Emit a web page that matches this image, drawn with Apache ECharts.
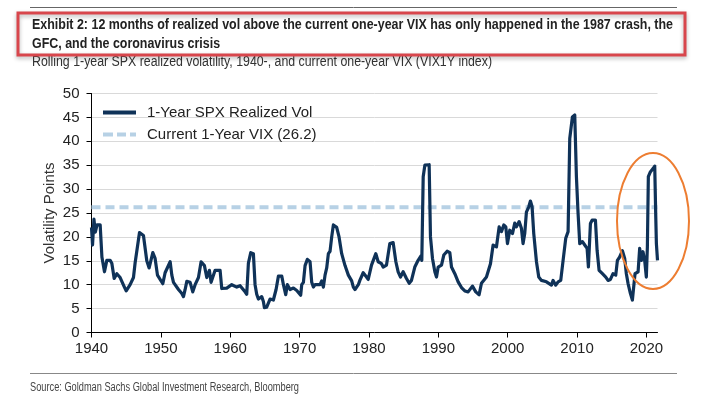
<!DOCTYPE html>
<html>
<head>
<meta charset="utf-8">
<script src="https://cdn.jsdelivr.net/npm/echarts@6/dist/echarts.min.js"></script>
<style>
  html, body { margin: 0; padding: 0; background: #fff; }
  #chart { width: 725px; height: 398px; }
</style>
</head>
<body>
<div id="chart"></div>
<script>
// rolling 1-year SPX realized vol (year, vol points)
var years = [
  1940.0, 1940.15, 1940.35, 1940.55, 1940.8, 1941.25, 1941.5, 1941.87, 1942.21, 1942.69,
  1942.93, 1943.27, 1943.65, 1944.13, 1944.71, 1945.0, 1945.57, 1946.05, 1946.29, 1946.53,
  1946.92, 1947.49, 1947.73, 1947.97, 1948.31, 1948.84, 1949.17, 1949.51, 1950.28, 1950.61,
  1951.34, 1951.58, 1951.82, 1952.54, 1953.0, 1953.26, 1953.5, 1953.74, 1954.22, 1954.6,
  1954.94, 1955.42, 1955.8, 1956.28, 1956.62, 1957.0, 1957.24, 1957.82, 1958.54, 1958.78,
  1959.5, 1960.22, 1960.94, 1961.42, 1962.14, 1962.38, 1962.62, 1962.96, 1963.34, 1963.58,
  1963.82, 1964.06, 1964.54, 1964.78, 1964.93, 1965.26, 1965.74, 1966.22, 1966.61, 1966.95,
  1967.43, 1967.67, 1968.0, 1968.24, 1968.63, 1969.11, 1969.59, 1969.83, 1970.16, 1970.31,
  1970.55, 1970.79, 1971.12, 1971.51, 1971.75, 1971.99, 1972.23, 1972.95, 1973.19, 1973.43,
  1973.67, 1973.91, 1974.15, 1974.39, 1974.63, 1974.87, 1975.35, 1975.69, 1976.07, 1976.55,
  1977.03, 1977.51, 1977.75, 1977.99, 1978.47, 1978.69, 1979.17, 1979.65, 1979.89, 1980.37,
  1980.99, 1981.33, 1981.81, 1982.05, 1982.53, 1983.01, 1983.49, 1983.88, 1984.21, 1984.55,
  1984.93, 1985.41, 1985.8, 1986.13, 1986.61, 1987.09, 1987.48, 1987.62, 1987.82, 1988.06,
  1988.68, 1988.87, 1989.16, 1989.5, 1989.74, 1989.98, 1990.46, 1990.79, 1991.27, 1991.66,
  1991.9, 1992.38, 1992.86, 1993.34, 1993.82, 1994.3, 1994.92, 1995.4, 1995.88, 1996.22,
  1996.94, 1997.52, 1997.9, 1998.38, 1998.77, 1999.1, 1999.44, 1999.73, 1999.97, 2000.3,
  2000.69, 2001.02, 2001.26, 2001.65, 2001.98, 2002.22, 2002.46, 2002.7, 2003.04, 2003.28,
  2003.52, 2003.76, 2004.15, 2004.48, 2004.87, 2005.59, 2006.31, 2006.55, 2006.93, 2007.27,
  2007.65, 2007.99, 2008.37, 2008.71, 2008.95, 2009.33, 2009.67, 2009.91, 2010.15, 2010.39,
  2010.78, 2011.11, 2011.45, 2011.64, 2011.93, 2012.17, 2012.65, 2012.89, 2013.18, 2013.66,
  2014.14, 2014.47, 2014.81, 2015.19, 2015.58, 2015.82, 2016.15, 2016.54, 2016.87, 2017.11,
  2017.35, 2017.69, 2017.98, 2018.17, 2018.36, 2018.8, 2019.03, 2019.27, 2019.51, 2019.75,
  2019.99, 2020.14, 2020.28, 2020.57, 2020.96, 2021.2, 2021.34, 2021.44, 2021.6
];
var vol = [
  22, 18.3, 23.7, 21, 22.5, 22.5, 15.8, 12.7, 15.1, 15.1,
  14.5, 11.3, 12.3, 11.5, 9.6, 8.7, 10, 11.5, 14.6, 15,
  20.9, 20.3, 20.5, 15, 13.5, 16.7, 15.5, 12, 10.2, 12.5,
  14.8, 12, 10.5, 9, 8.2, 7.5, 9, 10.7, 10.5, 8.5,
  10, 11.5, 14.8, 14, 11.5, 13, 10.5, 13, 13, 9.2,
  9.3, 10, 9.5, 9.8, 8.5, 8, 14.5, 16.7, 16.5, 10,
  8, 7, 7.5, 6.5, 5.2, 5.3, 7, 6.8, 9, 11.8,
  11.8, 10, 7.9, 10, 9, 9.3, 8.8, 9, 7.8, 10,
  10.5, 14, 15.3, 14.8, 10.5, 9.5, 10, 10, 10.8, 9.5,
  12, 13.5, 16.5, 17, 20, 22.5, 22, 20, 16.5, 14,
  12, 10.8, 9.5, 9, 10, 10.9, 12.5, 11.6, 11.1, 14.1,
  16.5, 14.8, 14.4, 13.7, 14.1, 18.6, 18.8, 14.8, 12.7, 11.6,
  12.7, 11.3, 10.3, 10.9, 13.7, 15.1, 16, 15.1, 32.6, 35,
  35.1, 20, 15.5, 12.7, 11.6, 13.7, 14.1, 16.2, 17, 16.7,
  13.7, 12.3, 10.6, 9.4, 8.7, 8.5, 9.7, 8.5, 7.9, 10.3,
  11.6, 14.4, 18.3, 17.9, 22.1, 21.1, 22.5, 22.1, 18.6, 21.4,
  20.7, 22.9, 22.1, 23.2, 21.8, 18.6, 20.7, 25.2, 26.3, 27.5,
  26.3, 20.7, 14.8, 11.6, 10.9, 10.6, 9.9, 10.9, 9.9, 10.6,
  10.9, 15.1, 19.7, 21.1, 40.6, 45.1, 45.5, 32.6, 24.9, 18.6,
  19, 18.3, 17.6, 13.7, 22.8, 23.5, 23.5, 17.2, 13, 12.3,
  11.6, 10.9, 11.1, 12.3, 12, 15.1, 15.8, 17.1, 15.5, 12.3,
  10.3, 8.2, 6.8, 7.1, 12.3, 12.7, 17.6, 15.1, 16.9, 15.1,
  11.6, 17.9, 32.6, 33.6, 34.3, 34.8, 24.9, 18.6, 15.1
];
var vixLevel = 26.2;
var xStart = 1940, xEnd = 2021.6;
var seriesNames = ['1-Year SPX Realized Vol', 'Current 1-Year VIX (26.2)'];

var titleLines = [
  'Exhibit 2: 12 months of realized vol above the current one-year VIX has only happened in the 1987 crash, the',
  'GFC, and the coronavirus crisis'
];
var subtitle = 'Rolling 1-year SPX realized volatility, 1940-, and current one-year VIX (VIX1Y index)';
var source = 'Source: Goldman Sachs Global Investment Research, Bloomberg';

var volData = years.map(function (y, i) { return [y, vol[i]]; });
var vixData = [[xStart, vixLevel], [xEnd, vixLevel]];

var axisFont = '"Liberation Sans", Arial, sans-serif';
var titleFont = 'bold 15px ' + axisFont;
var subFont = '14px ' + axisFont;
var srcFont = '12px ' + axisFont;

// the original uses a condensed face; squeeze regular text to the same width
var ctx = document.createElement('canvas').getContext('2d');
function squeeze(text, font, width) {
  ctx.font = font;
  return width / ctx.measureText(text).width;
}
var titleScale = squeeze(titleLines[0], titleFont, 641);
var subScale = squeeze(subtitle, subFont, 460);
var srcScale = squeeze(source, srcFont, 269);

function label(text, font, x, y, sx, color) {
  return {
    type: 'text', x: x, y: y, scaleX: sx, z: 20,
    style: { text: text, font: font, fill: color, verticalAlign: 'middle', align: 'left' }
  };
}

var chart = echarts.init(document.getElementById('chart'));
chart.setOption({
  backgroundColor: '#fff',
  animation: false,
  grid: { left: 91.5, right: 67.5, top: 93.5, bottom: 65.5 },
  legend: {
    orient: 'vertical',
    left: 98,
    top: 99,
    itemWidth: 33,
    itemHeight: 4,
    itemGap: 5,
    textStyle: { fontFamily: axisFont, fontSize: 15, color: '#222', lineHeight: 17, padding: [0, 0, 0, 6] },
    data: [
      { name: seriesNames[0], icon: 'path://M0,0H33V4H0Z' },
      { name: seriesNames[1], icon: 'path://M0,0H10V4H0Z M14,0H23V4H14Z M27,0H33V4H27Z' }
    ]
  },
  xAxis: {
    type: 'value',
    min: xStart,
    max: xEnd,
    interval: 10,
    axisLine: { lineStyle: { color: '#000', width: 1 } },
    axisTick: { show: true, length: 5, lineStyle: { color: '#000' } },
    splitLine: { show: false },
    axisLabel: {
      fontFamily: axisFont, fontSize: 15, color: '#222', margin: 9,
      showMaxLabel: false,
      formatter: function (v) { return v % 10 === 0 ? String(v) : ''; }
    }
  },
  yAxis: {
    type: 'value',
    min: 0,
    max: 50,
    interval: 5,
    name: 'Volatility Points',
    nameLocation: 'middle',
    nameGap: 34,
    nameMoveOverlap: false,
    nameTextStyle: { fontFamily: axisFont, fontSize: 15, color: '#333' },
    axisLine: { show: true, lineStyle: { color: '#000', width: 1 } },
    axisTick: { show: true, length: 5, lineStyle: { color: '#000' } },
    splitLine: { show: true, lineStyle: { color: '#d9d9d9', width: 1 } },
    axisLabel: { fontFamily: axisFont, fontSize: 15, color: '#222', margin: 12 }
  },
  series: [
    {
      name: seriesNames[0],
      type: 'line',
      data: volData,
      showSymbol: false,
      symbol: 'none',
      z: 3,
      lineStyle: { color: '#0f3258', width: 3.2, join: 'round' },
      itemStyle: { color: '#0f3258' }
    },
    {
      name: seriesNames[1],
      type: 'line',
      data: vixData,
      showSymbol: false,
      symbol: 'none',
      z: 2,
      lineStyle: { color: '#b7d1e5', width: 4, type: [9, 5] },
      itemStyle: { color: '#b7d1e5' }
    }
  ],
  graphic: [
    { type: 'line', shape: { x1: 30, y1: 7.5, x2: 677, y2: 7.5 }, style: { stroke: '#666', lineWidth: 1 } },
    label(subtitle, subFont, 32, 62, subScale, '#333'),
    {
      type: 'rect', shape: { x: 18, y: 13, width: 667, height: 42 }, z: 21,
      style: { fill: null, stroke: '#d8464c', lineWidth: 3, shadowBlur: 4, shadowColor: 'rgba(0,0,0,0.3)', shadowOffsetY: 2 }
    },
    label(titleLines[0], titleFont, 32, 25, titleScale, '#222'),
    label(titleLines[1], titleFont, 32, 44, titleScale, '#222'),
    {
      type: 'ellipse', shape: { cx: 653, cy: 221, rx: 36, ry: 68 },
      style: { fill: null, stroke: '#ed7d31', lineWidth: 2 }, z: 10
    },
    { type: 'line', shape: { x1: 30, y1: 373.5, x2: 677, y2: 373.5 }, style: { stroke: '#888', lineWidth: 1 } },
    label(source, srcFont, 30, 388, srcScale, '#444')
  ]
});
</script>
</body>
</html>
